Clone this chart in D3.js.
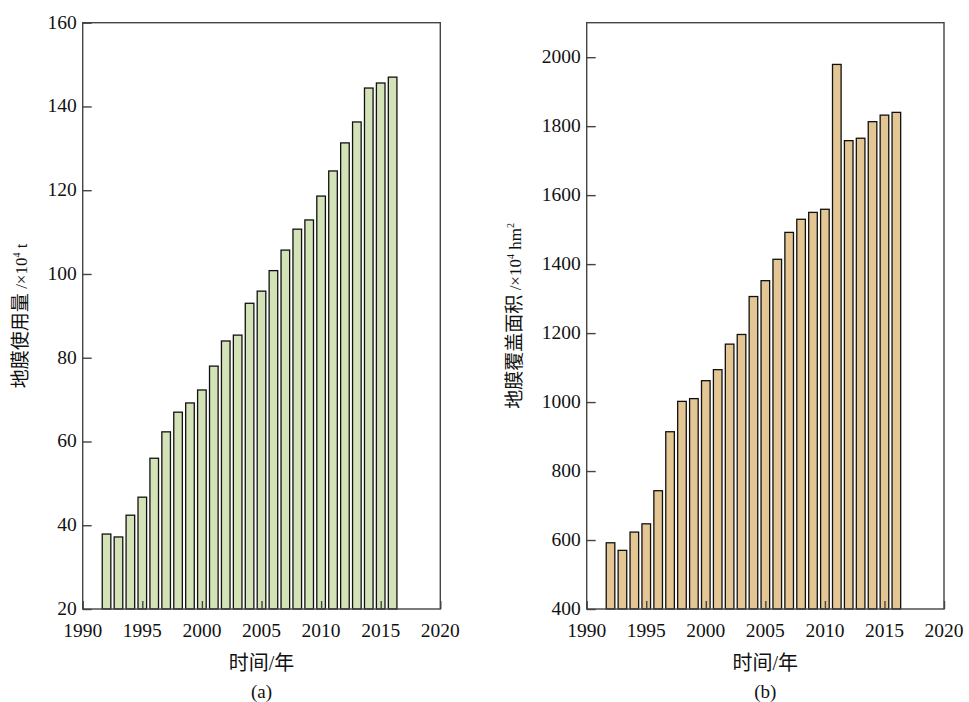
<!DOCTYPE html>
<html><head><meta charset="utf-8">
<script src="https://cdn.jsdelivr.net/npm/d3@7/dist/d3.min.js"></script>
<style>body{margin:0;background:#fff}svg{display:block}</style>
</head><body><svg id="c" width="969" height="702"></svg>
<script>
const years = d3.range(1992, 2017);
const filmUse = [37.9,37.2,42.4,46.7,56.0,62.3,67.0,69.2,72.3,78.0,84.0,85.4,93.0,95.9,100.8,105.7,110.7,112.9,118.6,124.6,131.3,136.3,144.4,145.6,147.0];
const filmArea = [592,570,623,647,743,914,1002,1010,1062,1094,1168,1196,1306,1352,1414,1492,1530,1550,1559,1979,1758,1765,1813,1832,1840];
const xTicks = [1990,1995,2000,2005,2010,2015,2020];
const yTicksA = [20,40,60,80,100,120,140,160];
const yTicksB = [400,600,800,1000,1200,1400,1600,1800,2000];

const svg = d3.select("#c");
const serif = "'Liberation Serif','Times New Roman','Noto Sans CJK SC',serif";
const plotTop = 22.7, plotBottom = 609;

function panel(opt){
  const g = svg.append("g");
  const x = d3.scaleLinear().domain([1990,2020]).range([opt.left, opt.right]);
  const y = d3.scaleLinear().domain(opt.domain).range([plotBottom, plotTop]);
  const bw = 8.6;
  g.selectAll("rect.bar").data(opt.values).join("rect")
    .attr("class","bar")
    .attr("x",(d,i)=>x(years[i])-bw/2)
    .attr("width",bw)
    .attr("y",d=>y(d))
    .attr("height",d=>plotBottom-y(d))
    .attr("fill",opt.color)
    .attr("stroke","#111")
    .attr("stroke-width",1.3);
  g.append("rect").attr("x",opt.left).attr("y",plotTop)
    .attr("width",opt.right-opt.left).attr("height",plotBottom-plotTop)
    .attr("fill","none").attr("stroke","#444").attr("stroke-width",1.4);
  const ya = g.append("g").attr("transform",`translate(${opt.left},0)`)
    .call(d3.axisRight(y).tickValues(opt.yTicks).tickSize(9).tickFormat(""));
  ya.select(".domain").remove();
  ya.selectAll("line").attr("stroke","#444").attr("stroke-width",1.4);
  g.selectAll("text.yl").data(opt.yTicks).join("text").attr("class","yl")
    .attr("x",opt.left-6).attr("y",d=>y(d)).attr("dy","0.3em")
    .attr("text-anchor","end").attr("font-family",serif).attr("font-size",19.5)
    .attr("fill","#111").text(d=>d);
  const xa = g.append("g").attr("transform",`translate(0,${plotBottom})`)
    .call(d3.axisTop(x).tickValues(xTicks).tickSize(8).tickFormat(""));
  xa.select(".domain").remove();
  xa.selectAll("line").attr("stroke","#444").attr("stroke-width",1.4);
  g.selectAll("text.xl").data(xTicks).join("text").attr("class","xl")
    .attr("x",d=>x(d)).attr("y",plotBottom+28)
    .attr("text-anchor","middle").attr("font-family",serif).attr("font-size",19.5)
    .attr("fill","#111").text(d=>d);
  const cx = (opt.left+opt.right)/2;
  g.append("text").attr("x",cx).attr("y",670).attr("text-anchor","middle")
    .attr("font-family",serif).attr("font-size",20).attr("fill","#111").text("时间/年");
  g.append("text").attr("x",cx).attr("y",698).attr("text-anchor","middle")
    .attr("font-family",serif).attr("font-size",19).attr("fill","#111").text(opt.sub);
  const t = g.append("text").attr("transform",`translate(${opt.titleX},${(plotTop+plotBottom)/2}) rotate(-90)`)
    .attr("text-anchor","middle").attr("font-family",serif).attr("font-size",19).attr("fill","#111");
  t.append("tspan").text(opt.t1);
  t.append("tspan").attr("font-size",17).text(" /×10");
  t.append("tspan").attr("font-size",10).attr("dy",-7).text("4");
  t.append("tspan").attr("font-size",17).attr("dy",7).text(" "+opt.unit);
  if(opt.unitSup){ t.append("tspan").attr("font-size",10).attr("dy",-7).text(opt.unitSup); }
}

panel({left:82.7,right:440.3,domain:[20,160],values:filmUse,color:"#d3e2b7",yTicks:yTicksA,
  sub:"(a)",titleX:27,t1:"地膜使用量",unit:"t"});
panel({left:586.7,right:944,domain:[400,2100],values:filmArea,color:"#e3c693",yTicks:yTicksB,
  sub:"(b)",titleX:521,t1:"地膜覆盖面积",unit:"hm",unitSup:"2"});
</script></body></html>
